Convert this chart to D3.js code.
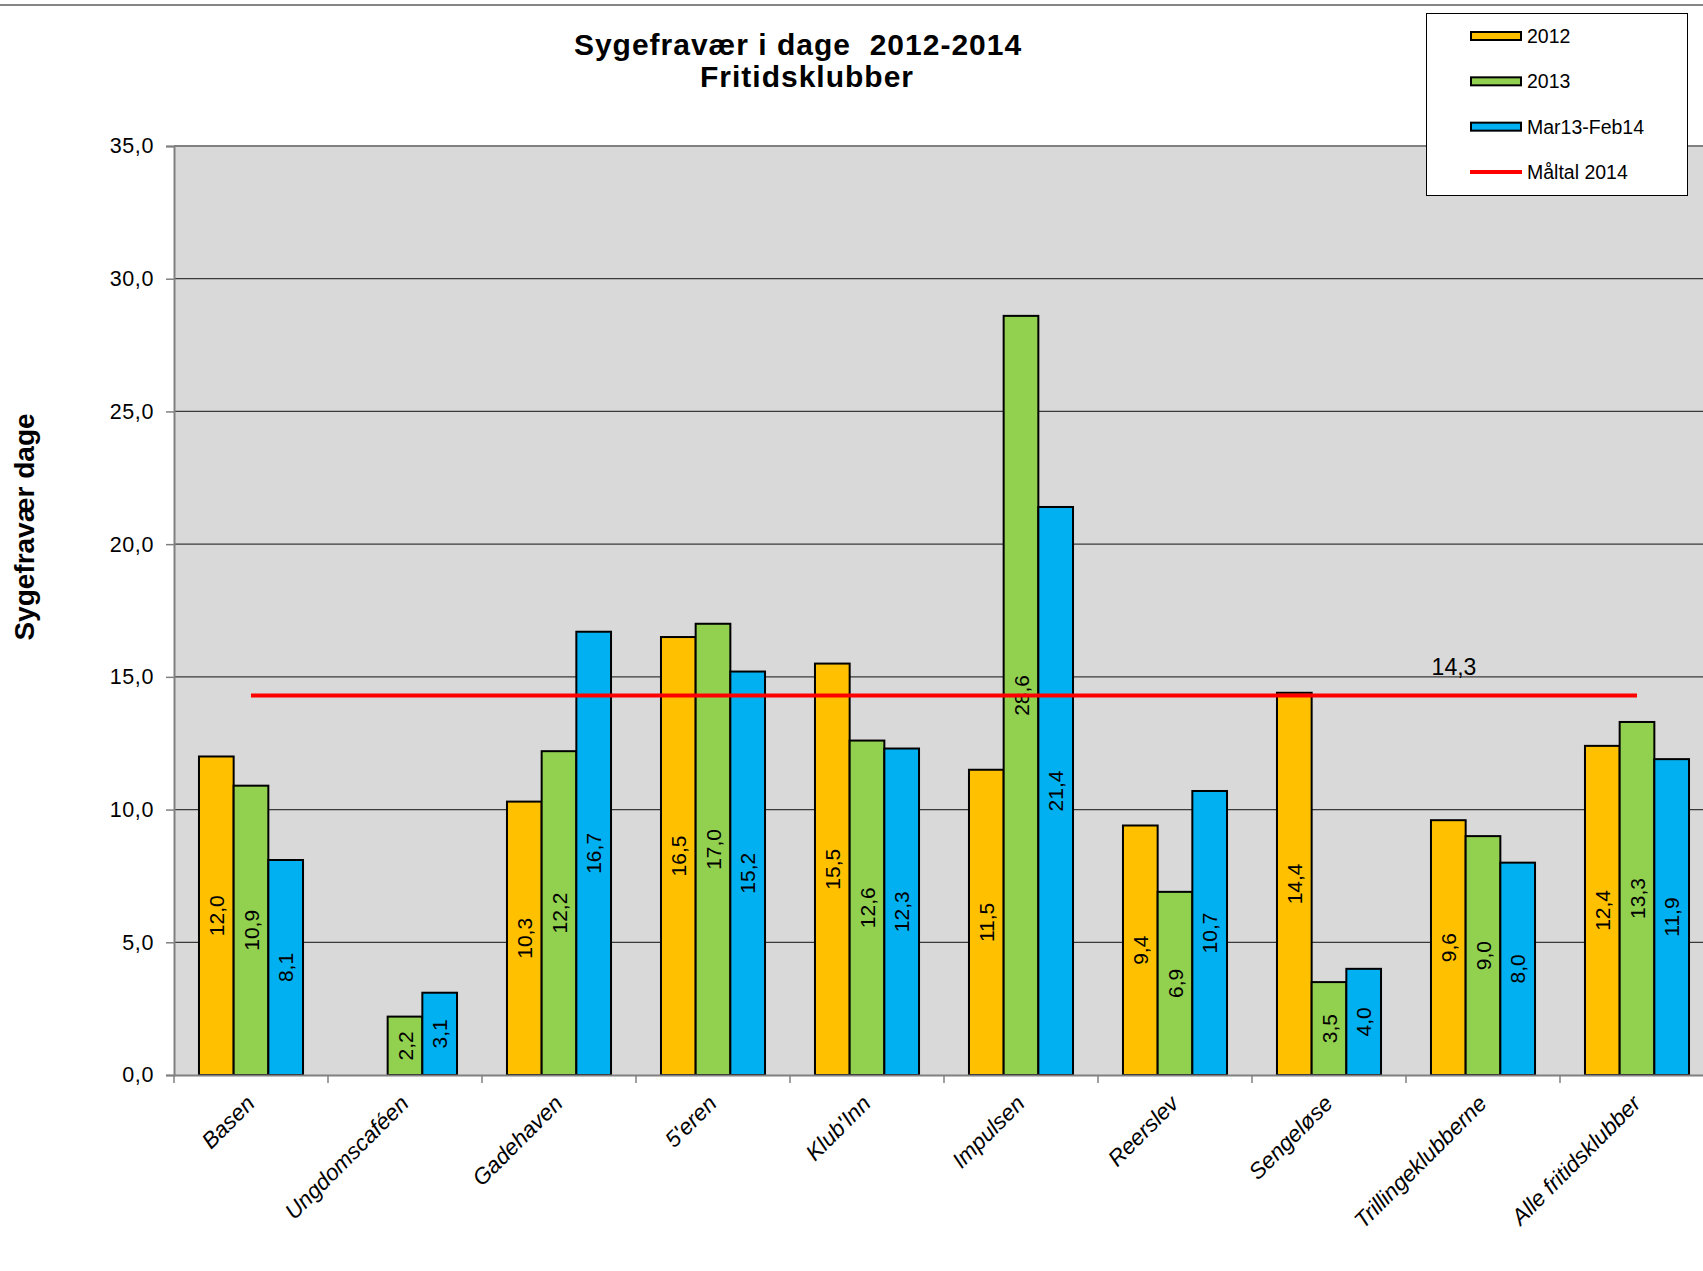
<!DOCTYPE html>
<html>
<head>
<meta charset="utf-8">
<script src="https://cdn.jsdelivr.net/npm/d3@7"></script>
<style>
  html, body { margin: 0; padding: 0; background: #fff; }
  svg { display: block; }
  text { font-family: "Liberation Sans", Arial, sans-serif; }
</style>
</head>
<body>
<svg id="chart" width="1703" height="1271"></svg>
<script>
const categories = ["Basen", "Ungdomscaféen", "Gadehaven", "5'eren", "Klub'Inn", "Impulsen", "Reerslev", "Sengeløse", "Trillingeklubberne", "Alle fritidsklubber"];
const seriesNames = ["2012", "2013", "Mar13-Feb14"];
const values2012 = [12.0, null, 10.3, 16.5, 15.5, 11.5, 9.4, 14.4, 9.6, 12.4];
const values2013 = [10.9, 2.2, 12.2, 17.0, 12.6, 28.6, 6.9, 3.5, 9.0, 13.3];
const valuesMar13Feb14 = [8.1, 3.1, 16.7, 15.2, 12.3, 21.4, 10.7, 4.0, 8.0, 11.9];
const targetName = "Måltal 2014";
const targetValue = 14.3;
const targetLabelCategory = "Trillingeklubberne";
const yTicks = [0, 5, 10, 15, 20, 25, 30, 35];
const titleLines = ["Sygefravær i dage  2012-2014", "Fritidsklubber"];
const yTitle = "Sygefravær dage";

const colors = ["#FFC000", "#92D050", "#00B0F0"];
const seriesValues = [values2012, values2013, valuesMar13Feb14];
const fmt = v => d3.format(".1f")(v).replace(".", ",");

const svg = d3.select("#chart");
const W = 1703, H = 1271;
const plot = { left: 174, top: 146, bottom: 1075 };
const step = 154;
const plotRight = plot.left + step * categories.length;

const x = d3.scaleBand().domain(categories).range([plot.left, plotRight]).padding(0);
const xs = d3.scaleBand().domain(seriesNames).range([0, x.bandwidth()]).paddingInner(0).paddingOuter(0.72);
const y = d3.scaleLinear().domain([0, 35]).range([plot.bottom, plot.top]);

// top border line
svg.append("line").attr("x1", 0).attr("x2", W).attr("y1", 5).attr("y2", 5)
  .attr("stroke", "#858585").attr("stroke-width", 2);

// plot background
svg.append("rect").attr("x", plot.left).attr("y", plot.top)
  .attr("width", plotRight - plot.left).attr("height", plot.bottom - plot.top)
  .attr("fill", "#D9D9D9");

// gridlines
svg.append("g").selectAll("line").data(yTicks.filter(t => t > 0 && t < 35)).join("line")
  .attr("x1", plot.left).attr("x2", plotRight)
  .attr("y1", d => y(d)).attr("y2", d => y(d))
  .attr("stroke", "#3a3a3a").attr("stroke-width", 1.2);
// plot top border
svg.append("line").attr("x1", plot.left).attr("x2", plotRight)
  .attr("y1", y(35)).attr("y2", y(35)).attr("stroke", "#808080").attr("stroke-width", 2);

// y axis
const yAxis = d3.axisLeft(y).tickValues(yTicks).tickFormat(fmt).tickSizeOuter(0).tickSize(8).tickPadding(12);
const gy = svg.append("g").attr("transform", `translate(${plot.left},0)`).call(yAxis);
gy.select(".domain").attr("stroke", "#808080").attr("stroke-width", 2);
gy.selectAll(".tick line").attr("stroke", "#808080").attr("stroke-width", 1.5);
gy.selectAll(".tick text").attr("font-size", 21.5).attr("fill", "#000")
  .attr("font-family", "'Liberation Sans', Arial, sans-serif").attr("letter-spacing", 0.6);

// bars
const groups = svg.append("g").selectAll("g").data(categories).join("g")
  .attr("transform", d => `translate(${x(d)},0)`);
groups.each(function(cat, ci) {
  const g = d3.select(this);
  seriesNames.forEach((s, si) => {
    const v = seriesValues[si][ci];
    if (v == null) return;
    g.append("rect")
      .attr("x", xs(s)).attr("y", y(v))
      .attr("width", xs.bandwidth()).attr("height", y(0) - y(v))
      .attr("fill", colors[si]).attr("stroke", "#000").attr("stroke-width", 2);
  });
});
// data labels
groups.each(function(cat, ci) {
  const g = d3.select(this);
  seriesNames.forEach((s, si) => {
    const v = seriesValues[si][ci];
    if (v == null) return;
    const cx = xs(s) + xs.bandwidth() / 2;
    const cy = (y(v) + y(0)) / 2;
    g.append("text")
      .attr("transform", `translate(${cx},${cy}) rotate(-90)`)
      .attr("text-anchor", "middle").attr("dy", "0.36em")
      .attr("font-size", 21).attr("fill", "#000")
      .text(fmt(v));
  });
});

// x axis
const xAxis = d3.axisBottom(x).tickSize(0).tickFormat("");
const gx = svg.append("g").attr("transform", `translate(0,${plot.bottom})`).call(xAxis);
gx.select(".domain").attr("stroke", "#808080").attr("stroke-width", 2);
// category boundary ticks
svg.append("g").selectAll("line").data(categories).join("line")
  .attr("x1", d => x(d)).attr("x2", d => x(d))
  .attr("y1", plot.bottom).attr("y2", plot.bottom + 8)
  .attr("stroke", "#808080").attr("stroke-width", 1.5);
// category labels
svg.append("g").selectAll("text").data(categories).join("text")
  .attr("transform", d => `translate(${x(d) + x.bandwidth() / 2 + 5},${plot.bottom + 30}) rotate(-45)`)
  .attr("text-anchor", "end").attr("font-size", 22.5).attr("font-style", "italic")
  .attr("fill", "#000").text(d => d);

// target line
const lineGen = d3.line().x(d => x(d) + x.bandwidth() / 2).y(() => y(targetValue));
svg.append("path").datum([categories[0], categories[categories.length - 1]])
  .attr("d", lineGen).attr("fill", "none").attr("stroke", "#FF0000").attr("stroke-width", 4);
svg.append("text")
  .attr("x", x(targetLabelCategory) + x.bandwidth() / 2 - 29)
  .attr("y", y(targetValue) - 20)
  .attr("text-anchor", "middle").attr("font-size", 23).attr("fill", "#000")
  .text(fmt(targetValue));

// titles
svg.append("text").attr("x", 798).attr("y", 55).attr("text-anchor", "middle")
  .attr("font-size", 30).attr("font-weight", "bold").attr("letter-spacing", 1)
  .style("white-space", "pre").text(titleLines[0]);
svg.append("text").attr("x", 807).attr("y", 87).attr("text-anchor", "middle")
  .attr("font-size", 30).attr("font-weight", "bold").attr("letter-spacing", 1)
  .text(titleLines[1]);
svg.append("text").attr("transform", `translate(34,527) rotate(-90)`)
  .attr("text-anchor", "middle").attr("font-size", 28).attr("font-weight", "bold")
  .text(yTitle);

// legend
const legend = svg.append("g");
legend.append("rect").attr("x", 1426.5).attr("y", 13.5).attr("width", 261).attr("height", 182)
  .attr("fill", "#fff").attr("stroke", "#000").attr("stroke-width", 1);
const legendItems = seriesNames.map((s, i) => ({ name: s, color: colors[i], type: "bar" }))
  .concat([{ name: targetName, color: "#FF0000", type: "line" }]);
const ly = d3.scalePoint().domain(legendItems.map(d => d.name)).range([36, 172]);
legendItems.forEach(d => {
  const cy = ly(d.name);
  if (d.type === "bar") {
    legend.append("rect").attr("x", 1471).attr("y", cy - 4).attr("width", 50).attr("height", 8)
      .attr("fill", d.color).attr("stroke", "#000").attr("stroke-width", 2);
  } else {
    legend.append("line").attr("x1", 1470).attr("x2", 1522).attr("y1", cy).attr("y2", cy)
      .attr("stroke", d.color).attr("stroke-width", 4);
  }
  legend.append("text").attr("x", 1527).attr("y", cy).attr("dy", "0.36em")
    .attr("font-size", 19.5).attr("fill", "#000").text(d.name);
});
</script>
</body>
</html>
